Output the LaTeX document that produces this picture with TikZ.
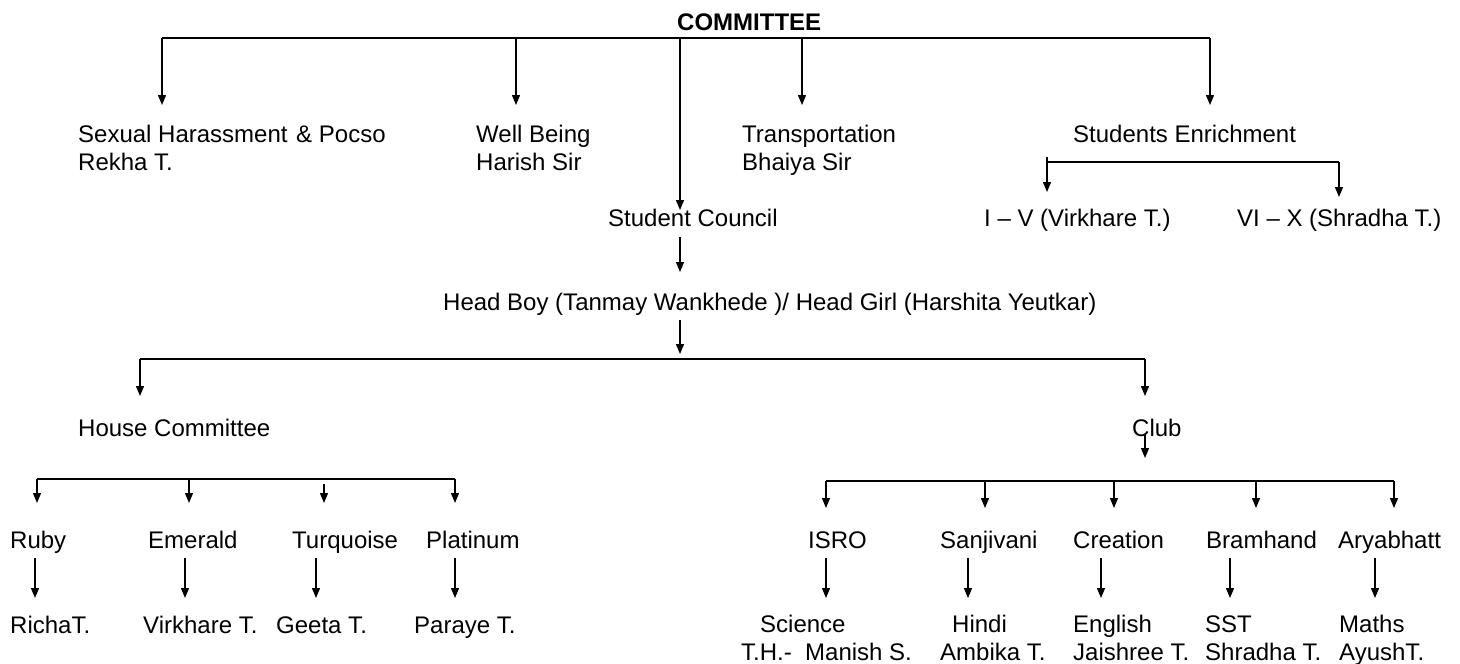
\documentclass[tikz,border=0pt]{standalone}
\usepackage{fontspec}
\setmainfont{Liberation Sans}
\usetikzlibrary{arrows.meta}
\begin{document}
\begin{tikzpicture}[x=1pt,y=-1pt,
  lbl/.style={inner sep=0pt, anchor=base west, font=\fontsize{24}{28}\selectfont, align=left},
  arr/.style={line width=1.3pt, -{Triangle[length=10pt,width=8pt]}},
  ln/.style={line width=1.3pt}]
\useasboundingbox (0,0) rectangle (1460,664);
% texts (base anchor = baseline of last line)
\node[lbl, font=\bfseries\fontsize{24}{28}\selectfont] (com) at (677,30) {COMMITTEE};
\node[lbl] (sh) at (78,170) {Sexual Harassment\hspace{2pt} \& Pocso\\Rekha T.};
\node[lbl] (wb) at (476,170) {Well Being\\Harish Sir};
\node[lbl] (tr) at (742,170) {Transportation\\Bhaiya Sir};
\node[lbl] (se) at (1073,142) {Students Enrichment};
\node[lbl] (s1) at (984,226) {I -- V (Virkhare T.)};
\node[lbl] (s2) at (1237,226) {VI -- X (Shradha T.)};
\node[lbl] (sc) at (608,226) {Student Council};
\node[lbl] (hb) at (443,310) {Head Boy (Tanmay Wankhede )/ Head Girl (Harshita Yeutkar)};
\node[lbl] (hc) at (78,436) {House Committee};
\node[lbl] (cl) at (1132,436) {Club};
\node[lbl] (h1) at (10,548) {Ruby};
\node[lbl] (h2) at (148,548) {Emerald};
\node[lbl] (h3) at (292,548) {Turquoise};
\node[lbl] (h4) at (426,548) {Platinum};
\node[lbl] (t1) at (10,633) {RichaT.};
\node[lbl] (t2) at (143,633) {Virkhare T.};
\node[lbl] (t3) at (276,633) {Geeta T.};
\node[lbl] (t4) at (414,633) {Paraye T.};
\node[lbl] (c1) at (808,548) {ISRO};
\node[lbl] (c2) at (940,548) {Sanjivani};
\node[lbl] (c3) at (1073,548) {Creation};
\node[lbl] (c4) at (1206,548) {Bramhand};
\node[lbl] (c5) at (1338,548) {Aryabhatt};
\node[lbl] (d1) at (741,660) {\hspace*{19pt}Science\\T.H.-\ \ Manish S.};
\node[lbl] (d2) at (940,660) {\hspace*{12pt}Hindi\\Ambika T.};
\node[lbl] (d3) at (1073,660) {English\\Jaishree T.};
\node[lbl] (d4) at (1205,660) {SST\\Shradha T.};
\node[lbl] (d5) at (1339,660) {Maths\\AyushT.};
% top bar
\coordinate (bl) at (162,38); \coordinate (br) at (1210,38);
\draw[ln] (bl) -- (br);
\foreach \x/\t in {162/105,516/105,802/105,1210/105,680/210}
  \draw[arr] (\x,38) -- (\x,\t);
% students enrichment
\draw[ln] (1047,157) -- (1047,162) -- (1339,162);
\draw[arr] (1047,162) -- (1047,192);
\draw[arr] (1339,162) -- (1339,197);
% council
\draw[arr] (680,237) -- (680,272);
\draw[arr] (680,320) -- (680,354);
\draw[ln] (140,359) -- (1145,359);
\draw[arr] (140,359) -- (140,396);
\draw[arr] (1145,359) -- (1145,396);
% house
\draw[ln] (37,479) -- (455,479);
\foreach \x/\s in {37/479,189/479,324/484,455/479}
  \draw[arr] (\x,\s) -- (\x,503);
\foreach \x in {35,185,316,455}
  \draw[arr] (\x,558) -- (\x,598);
% club
\draw[arr] (1145,434) -- (1145,458);
\draw[ln] (826,481) -- (1394,481);
\foreach \x in {826,985,1114,1256,1394}
  \draw[arr] (\x,481) -- (\x,508);
\foreach \x in {826,968,1101,1230,1375}
  \draw[arr] (\x,558) -- (\x,598);
\end{tikzpicture}
\end{document}
